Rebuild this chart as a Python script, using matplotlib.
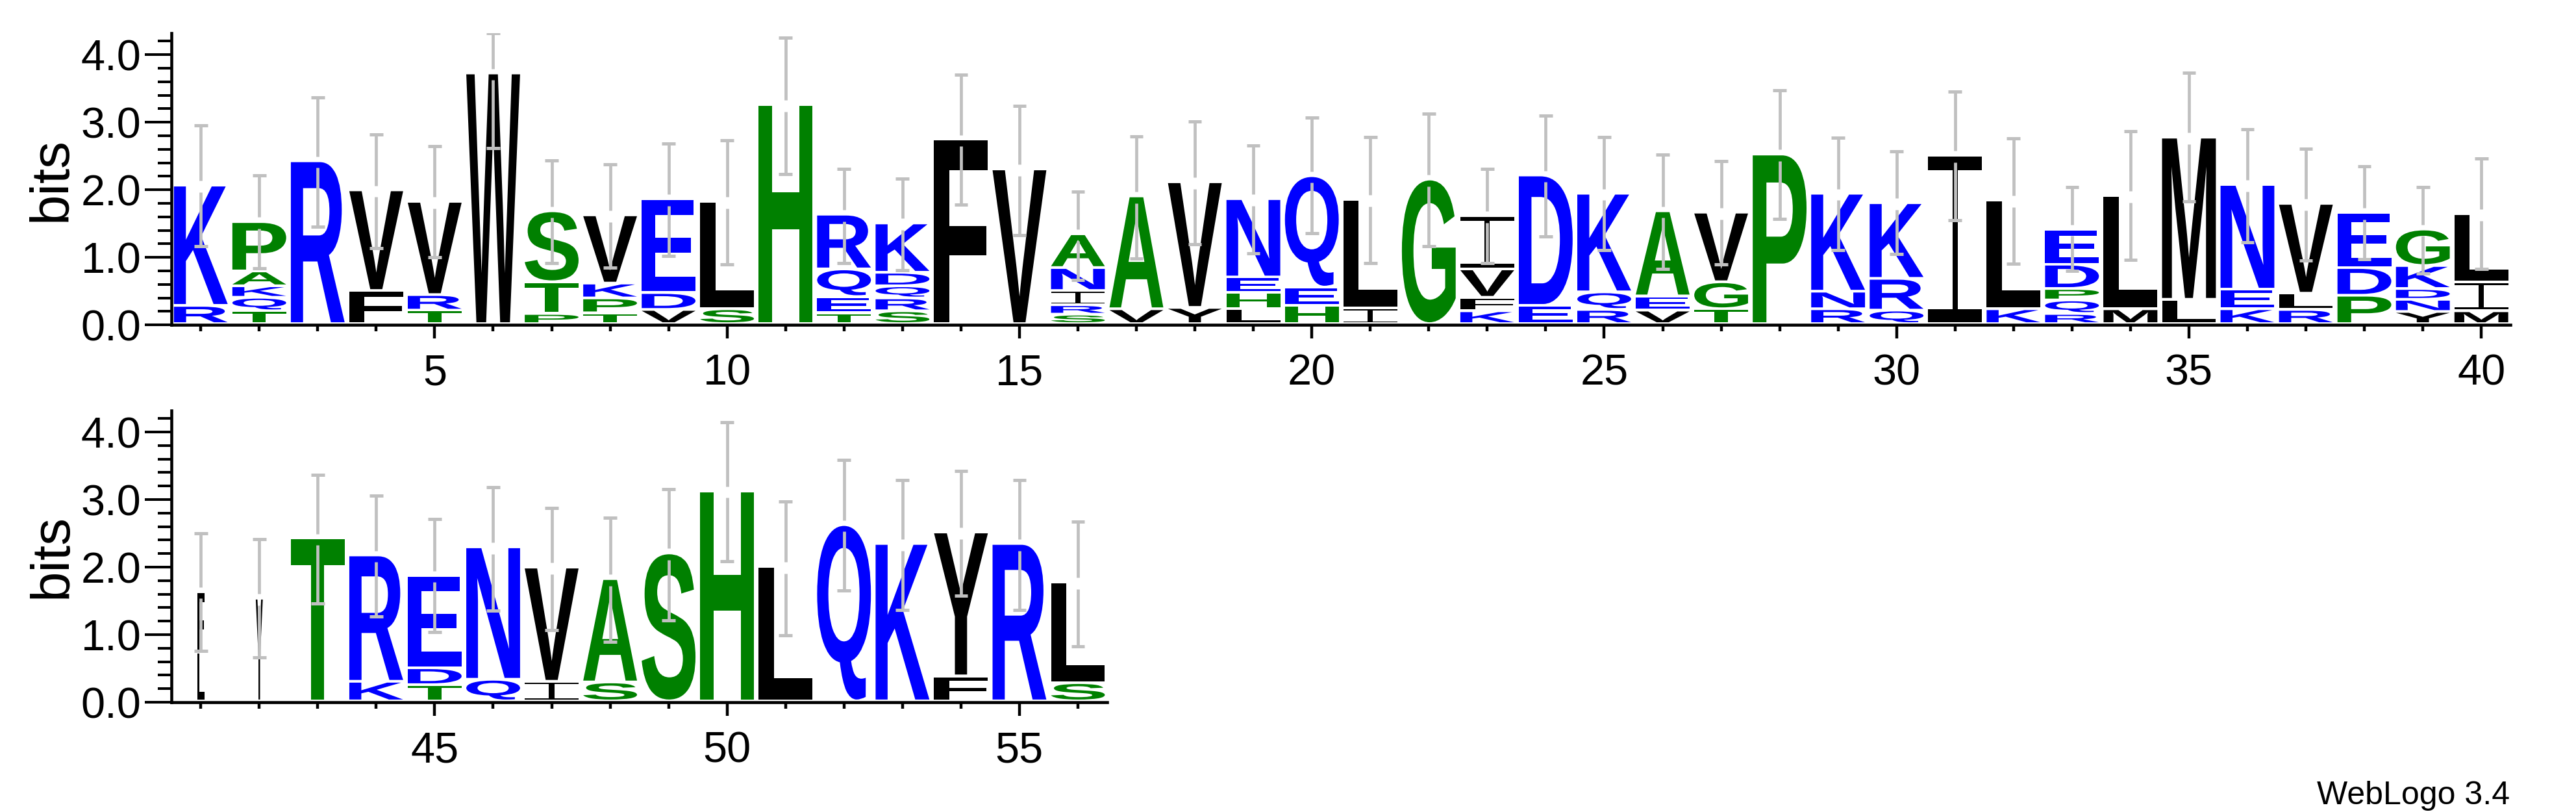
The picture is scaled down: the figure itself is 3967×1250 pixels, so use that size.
import matplotlib
matplotlib.use('Agg')
import matplotlib.pyplot as plt
from matplotlib.textpath import TextPath
from matplotlib.patches import PathPatch
from matplotlib.path import Path
from matplotlib.font_manager import FontProperties
from matplotlib.transforms import Affine2D
from matplotlib.ticker import FixedLocator, MultipleLocator, FormatStrFormatter

plt.rcParams['font.family'] = ['Liberation Sans', 'DejaVu Sans']

# sequence logo data: letters per position (bottom -> top) and their heights in bits
positions = list(range(1, 57))
stack_letters = [
    "RK", "TQKAP", "R", "FV", "TRV", "W", "PTS", "TPKV", "VDE", "SL",
    "H", "TEQR", "SRQDK", "F", "V", "SRINA", "VA", "YV", "LHEN", "HEQ",
    "IL", "G", "KFVI", "ED", "RQK", "VEA", "TGV", "P", "RNK", "QRK",
    "I", "KL", "RQPDE", "ML", "LM", "KEN", "RLV", "PDE", "YNDKG", "MIL",
    "LF", "Y", "T", "KR", "TDE", "QN", "IV", "SA", "S", "H",
    "L", "Q", "K", "FY", "R", "SL",
]
stack_heights = [
    [0.27, 1.78], [0.19, 0.20, 0.17, 0.22, 0.73], [2.41], [0.49, 1.49], [0.20, 0.23, 1.38],
    [3.71], [0.15, 0.47, 1.05], [0.16, 0.22, 0.22, 1.01], [0.21, 0.25, 1.39], [0.22, 1.59],
    [3.24], [0.16, 0.24, 0.41, 0.81], [0.19, 0.19, 0.18, 0.20, 0.73], [2.73], [2.29],
    [0.14, 0.14, 0.21, 0.34, 0.50], [0.22, 1.67], [0.24, 1.86], [0.22, 0.24, 0.23, 1.16], [0.27, 0.27, 1.65],
    [0.23, 1.61], [2.14], [0.19, 0.20, 0.42, 0.79], [0.27, 1.93], [0.21, 0.26, 1.46],
    [0.20, 0.21, 1.26], [0.22, 0.40, 1.03], [2.51], [0.22, 0.26, 1.45], [0.20, 0.47, 1.12],
    [2.49], [0.22, 1.61], [0.15, 0.20, 0.17, 0.36, 0.52], [0.22, 1.68], [0.36, 2.40],
    [0.22, 0.29, 1.55], [0.21, 0.24, 1.33], [0.42, 0.41, 0.82], [0.18, 0.18, 0.16, 0.34, 0.54], [0.19, 0.43, 1.01],
    [0.72, 0.90], [1.52], [2.41], [0.29, 1.87], [0.24, 0.25, 1.37],
    [0.32, 1.96], [0.29, 1.69], [0.28, 1.53], [2.19], [3.11],
    [1.99], [2.61], [2.33], [0.37, 2.13], [2.33], [0.27, 1.49],
]
# relative stack width (positions with mostly gaps are drawn narrow)
stack_widths = [1.0] * 40 + [0.13, 0.13] + [1.0] * 14
err_low = [
    1.17, 0.84, 1.45, 1.14, 1.00, 2.62, 0.92, 0.85, 1.02, 0.90,
    2.23, 0.92, 0.81, 1.78, 1.33, 0.67, 0.98, 1.19, 1.06, 1.36,
    0.92, 1.17, 0.92, 1.31, 1.11, 0.83, 0.90, 1.57, 1.11, 1.05,
    1.55, 0.91, 0.80, 0.96, 1.83, 1.22, 0.95, 0.97, 0.76, 0.83,
    0.76, 0.66, 1.46, 1.27, 1.04, 1.36, 1.07, 0.89, 1.21, 2.09,
    0.99, 1.65, 1.37, 1.58, 1.37, 0.83,
]
err_high = [
    2.95, 2.21, 3.37, 2.82, 2.65, 4.32, 2.44, 2.38, 2.69, 2.73,
    4.25, 2.31, 2.17, 3.70, 3.24, 1.97, 2.79, 3.01, 2.66, 3.07,
    2.78, 3.13, 2.31, 3.10, 2.78, 2.52, 2.43, 3.47, 2.77, 2.57,
    3.45, 2.76, 2.04, 2.87, 3.73, 2.90, 2.61, 2.35, 2.04, 2.46,
    2.50, 2.41, 3.37, 3.06, 2.71, 3.18, 2.88, 2.73, 3.15, 4.14,
    2.97, 3.59, 3.29, 3.42, 3.29, 2.67,
]

COLORS = {}
for aa in "AGHPST":
    COLORS[aa] = "#008000"
for aa in "DEKNQR":
    COLORS[aa] = "#0000FF"
for aa in "FILMVWYC":
    COLORS[aa] = "#000000"

GLYPH_FONT = FontProperties(family='Liberation Sans', weight='bold')
MAX_BITS = 4.32
LETTER_W = 0.92
LETTER_GAP = 0.04
ERR_COLOR = "#C0C0C0"


def glyph_path(ch):
    if ch == 'I':
        # serif I, as drawn by WebLogo
        b, s = 0.08, 0.05
        verts = [(0, 0), (1, 0), (1, b), (0.5 + s, b), (0.5 + s, 1 - b), (1, 1 - b),
                 (1, 1), (0, 1), (0, 1 - b), (0.5 - s, 1 - b), (0.5 - s, b), (0, b), (0, 0)]
        codes = [Path.MOVETO] + [Path.LINETO] * 11 + [Path.CLOSEPOLY]
        return Path(verts, codes)
    return TextPath((0, 0), ch, size=1, prop=GLYPH_FONT)


def draw_letter(ax, ch, x, y0, w, h):
    path = glyph_path(ch)
    bb = path.get_extents()
    t = (Affine2D().translate(-bb.x0, -bb.y0)
         .scale(w / bb.width, h / bb.height)
         .translate(x - w / 2, y0))
    ax.add_patch(PathPatch(t.transform_path(path), facecolor=COLORS[ch],
                           edgecolor='none', lw=0, zorder=2))


def draw_logo(ax, idx):
    for i in idx:
        x = positions[i]
        w = LETTER_W * stack_widths[i]
        y = 0.0
        for ch, h in zip(stack_letters[i], stack_heights[i]):
            draw_letter(ax, ch, x, y + LETTER_GAP, w, h - LETTER_GAP)
            y += h
        top = y
        lo, hi = err_low[i], err_high[i]
        gap = 0.085
        ax.plot([x, x], [top + gap, hi], color=ERR_COLOR, lw=3.4, zorder=3, solid_capstyle='butt')
        ax.plot([x, x], [lo, top - gap], color=ERR_COLOR, lw=3.4, zorder=3, solid_capstyle='butt')
        ax.hlines([lo, hi], x - 0.115, x + 0.115, color=ERR_COLOR, lw=3.6, zorder=3)


def setup_axes(ax, first, last, majors):
    ax.set_xlim(first - 0.5, last + 0.5)
    ax.set_ylim(0, MAX_BITS)
    for side in ('top', 'right'):
        ax.spines[side].set_visible(False)
    ax.spines['left'].set_linewidth(3.3)
    ax.spines['bottom'].set_linewidth(3.3)
    ax.xaxis.set_major_locator(FixedLocator(majors))
    ax.xaxis.set_minor_locator(FixedLocator(list(range(first, last + 1))))
    ax.yaxis.set_major_locator(FixedLocator([0, 1, 2, 3, 4]))
    ax.yaxis.set_minor_locator(MultipleLocator(0.2))
    ax.yaxis.set_major_formatter(FormatStrFormatter('%.1f'))
    ax.tick_params(axis='y', which='major', direction='out', length=29.5, width=2.9, labelsize=48, pad=4)
    ax.tick_params(axis='y', which='minor', direction='out', length=15, width=2.9)
    ax.tick_params(axis='x', which='major', direction='out', length=15, width=3.2, labelsize=48, pad=17)
    ax.tick_params(axis='x', which='minor', direction='out', length=7.2, width=3.2)
    ax.set_ylabel("bits", fontsize=60)


fig = plt.figure(figsize=(39.67, 12.5), dpi=100)
ax1 = fig.add_axes([0.0666, 0.5998, 0.9080, 0.3594])
ax2 = fig.add_axes([0.0666, 0.1352, 0.3632, 0.3594])

setup_axes(ax1, 1, 40, [5, 10, 15, 20, 25, 30, 35, 40])
setup_axes(ax2, 41, 56, [45, 50, 55])
ax1.yaxis.set_label_coords(-0.0403, 0.5)
ax2.yaxis.set_label_coords(-0.1006, 0.5)

draw_logo(ax1, range(0, 40))
draw_logo(ax2, range(40, 56))

fig.text(3865 / 3967, 1 - 1238 / 1250, "WebLogo 3.4", ha='right', va='baseline', fontsize=36)

fig.savefig("out.png", dpi=100)
plt.close(fig)
